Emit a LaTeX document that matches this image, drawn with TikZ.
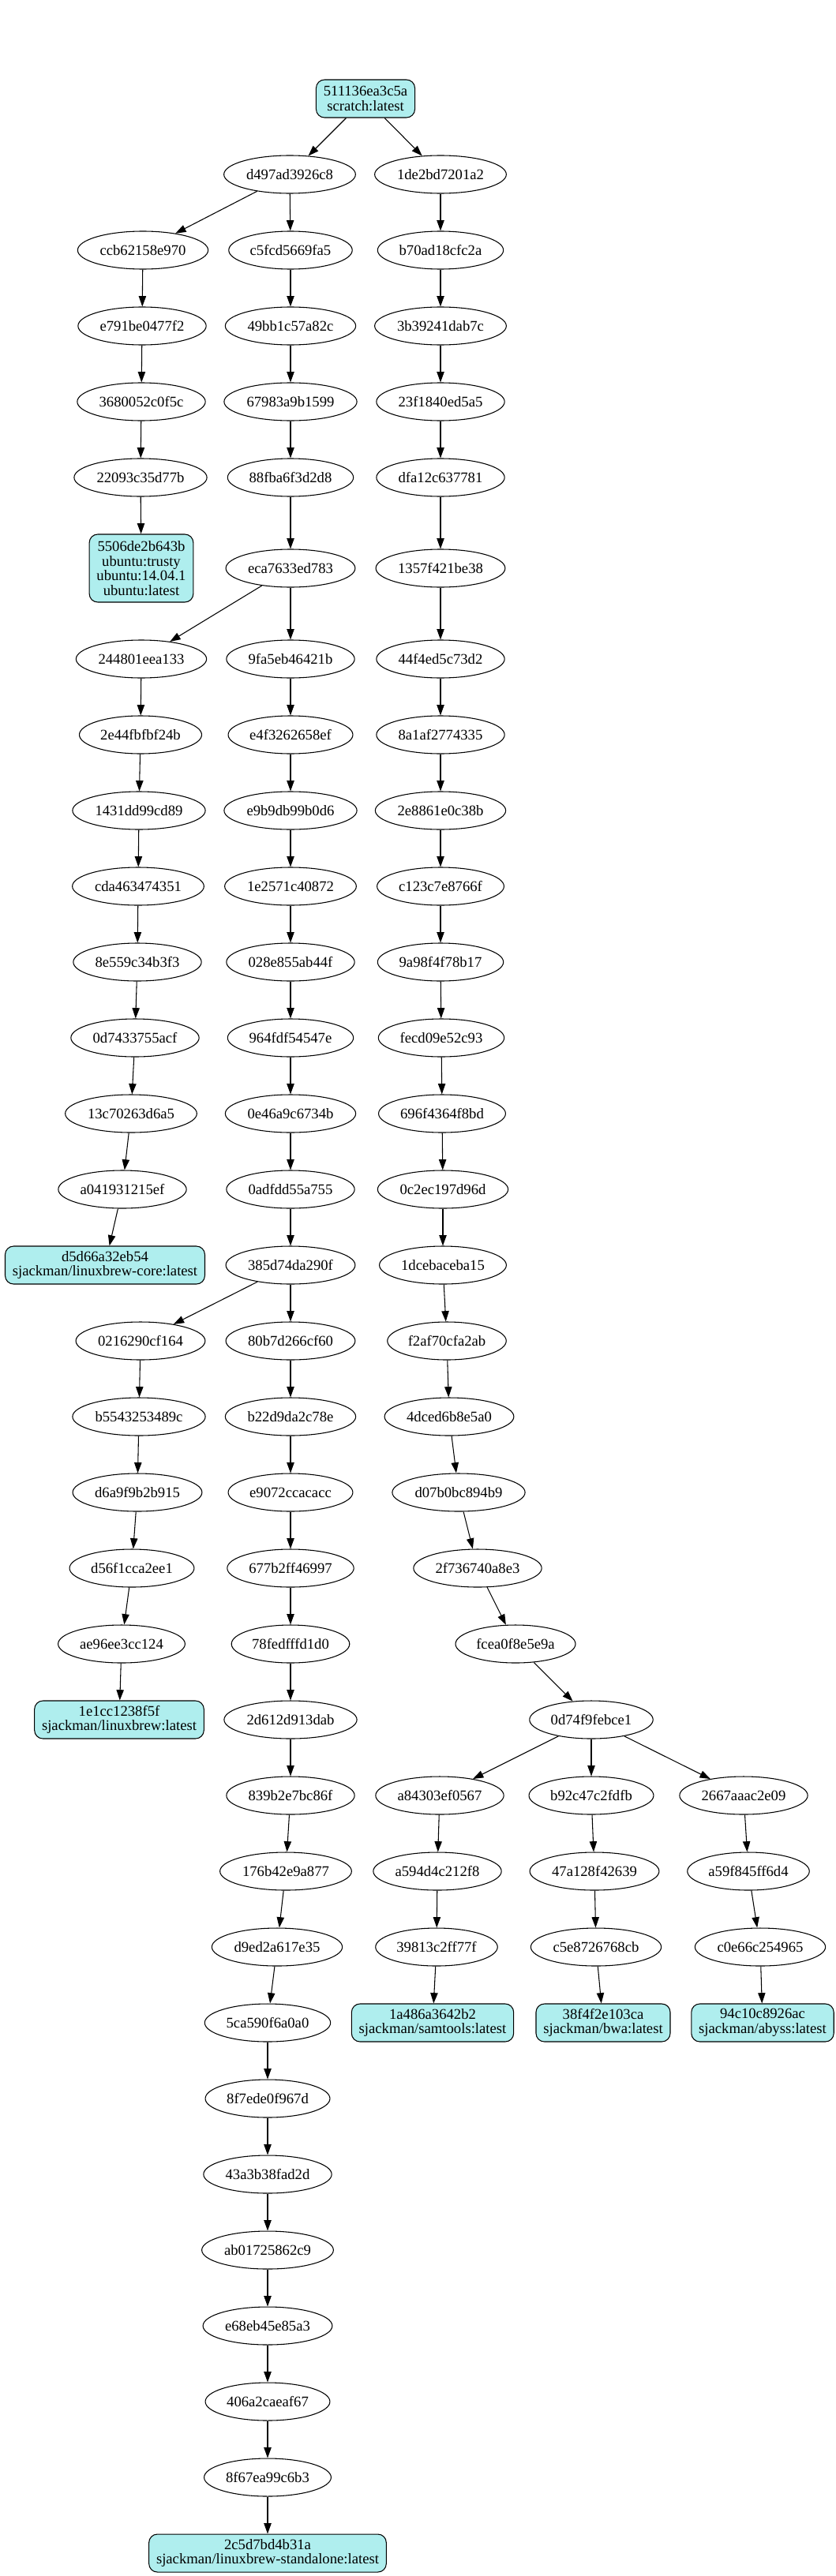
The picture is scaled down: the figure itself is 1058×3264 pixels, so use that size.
\documentclass[tikz,border=0pt]{standalone}
\usepackage{fontspec}
\setmainfont{Liberation Serif}
\usetikzlibrary{arrows.meta,shapes.geometric}
\definecolor{paleturq}{HTML}{AFEEEE}
\begin{document}
\begin{tikzpicture}[x=0.75pt,y=-0.75pt,
  img/.style={draw,ellipse,line width=0.8pt,minimum height=36pt,inner xsep=3pt,inner ysep=1pt,font=\fontsize{14}{14}\selectfont},
  tag/.style={draw,rectangle,rounded corners=8pt,fill=paleturq,line width=0.8pt,minimum height=36pt,inner xsep=7pt,inner ysep=3pt,align=center,font=\fontsize{14}{14}\selectfont},
  edge/.style={line width=0.8pt,-{Triangle[length=10pt,width=7pt]}}]
\useasboundingbox (0,0) rectangle (1058,3264);
% rank 0-1
\node[tag] (n511136ea3c5a) at (463,125) {511136ea3c5a\\scratch:latest};
\node[img] (nd497ad3926c8) at (367,221) {d497ad3926c8};
\node[img] (n1de2bd7201a2) at (558,221) {1de2bd7201a2};
% rank 2-6
\node[img] (nccb62158e970) at (181,317) {ccb62158e970};
\node[img] (nc5fcd5669fa5) at (368,317) {c5fcd5669fa5};
\node[img] (nb70ad18cfc2a) at (558,317) {b70ad18cfc2a};
\node[img] (ne791be0477f2) at (180,413) {e791be0477f2};
\node[img] (n49bb1c57a82c) at (368,413) {49bb1c57a82c};
\node[img] (n3b39241dab7c) at (558,413) {3b39241dab7c};
\node[img] (n3680052c0f5c) at (179,509) {3680052c0f5c};
\node[img] (n67983a9b1599) at (368,509) {67983a9b1599};
\node[img] (n23f1840ed5a5) at (558,509) {23f1840ed5a5};
\node[img] (n22093c35d77b) at (178,605) {22093c35d77b};
\node[img] (n88fba6f3d2d8) at (368,605) {88fba6f3d2d8};
\node[img] (ndfa12c637781) at (558,605) {dfa12c637781};
\node[tag,minimum height=64.5pt] (n5506de2b643b) at (179,720) {5506de2b643b\\ubuntu:trusty\\ubuntu:14.04.1\\ubuntu:latest};
\node[img] (neca7633ed783) at (368,720) {eca7633ed783};
\node[img] (n1357f421be38) at (558,720) {1357f421be38};
% rank 7-15
\node[img] (n244801eea133) at (179,835) {244801eea133};
\node[img] (n9fa5eb46421b) at (368,835) {9fa5eb46421b};
\node[img] (n44f4ed5c73d2) at (558,835) {44f4ed5c73d2};
\node[img] (n2e44fbfbf24b) at (178,931) {2e44fbfbf24b};
\node[img] (ne4f3262658ef) at (368,931) {e4f3262658ef};
\node[img] (n8a1af2774335) at (558,931) {8a1af2774335};
\node[img] (n1431dd99cd89) at (176,1027) {1431dd99cd89};
\node[img] (ne9b9db99b0d6) at (368,1027) {e9b9db99b0d6};
\node[img] (n2e8861e0c38b) at (558,1027) {2e8861e0c38b};
\node[img] (ncda463474351) at (175,1123) {cda463474351};
\node[img] (n1e2571c40872) at (368,1123) {1e2571c40872};
\node[img] (nc123c7e8766f) at (558,1123) {c123c7e8766f};
\node[img] (n8e559c34b3f3) at (174,1219) {8e559c34b3f3};
\node[img] (n028e855ab44f) at (368,1219) {028e855ab44f};
\node[img] (n9a98f4f78b17) at (558,1219) {9a98f4f78b17};
\node[img] (n0d7433755acf) at (171,1315) {0d7433755acf};
\node[img] (n964fdf54547e) at (368,1315) {964fdf54547e};
\node[img] (nfecd09e52c93) at (559,1315) {fecd09e52c93};
\node[img] (n13c70263d6a5) at (166,1411) {13c70263d6a5};
\node[img] (n0e46a9c6734b) at (368,1411) {0e46a9c6734b};
\node[img] (n696f4364f8bd) at (560,1411) {696f4364f8bd};
\node[img] (na041931215ef) at (155,1507) {a041931215ef};
\node[img] (n0adfdd55a755) at (368,1507) {0adfdd55a755};
\node[img] (n0c2ec197d96d) at (561,1507) {0c2ec197d96d};
\node[tag] (nd5d66a32eb54) at (133,1603) {d5d66a32eb54\\sjackman/linuxbrew-core:latest};
\node[img] (n385d74da290f) at (368,1603) {385d74da290f};
\node[img] (n1dcebaceba15) at (561,1603) {1dcebaceba15};
% rank 16-21
\node[img] (n0216290cf164) at (178,1699) {0216290cf164};
\node[img] (n80b7d266cf60) at (368,1699) {80b7d266cf60};
\node[img] (nf2af70cfa2ab) at (566,1699) {f2af70cfa2ab};
\node[img] (nb5543253489c) at (176,1795) {b5543253489c};
\node[img] (nb22d9da2c78e) at (368,1795) {b22d9da2c78e};
\node[img] (n4dced6b8e5a0) at (569,1795) {4dced6b8e5a0};
\node[img] (nd6a9f9b2b915) at (174,1891) {d6a9f9b2b915};
\node[img] (ne9072ccacacc) at (368,1891) {e9072ccacacc};
\node[img] (nd07b0bc894b9) at (581,1891) {d07b0bc894b9};
\node[img] (nd56f1cca2ee1) at (167,1987) {d56f1cca2ee1};
\node[img] (n677b2ff46997) at (368,1987) {677b2ff46997};
\node[img] (n2f736740a8e3) at (605,1987) {2f736740a8e3};
\node[img] (nae96ee3cc124) at (154,2083) {ae96ee3cc124};
\node[img] (n78fedfffd1d0) at (368,2083) {78fedfffd1d0};
\node[img] (nfcea0f8e5e9a) at (653,2083) {fcea0f8e5e9a};
\node[tag] (n1e1cc1238f5f) at (151,2179) {1e1cc1238f5f\\sjackman/linuxbrew:latest};
\node[img] (n2d612d913dab) at (368,2179) {2d612d913dab};
\node[img] (n0d74f9febce1) at (749,2179) {0d74f9febce1};
% rank 22-25
\node[img] (n839b2e7bc86f) at (368,2275) {839b2e7bc86f};
\node[img] (na84303ef0567) at (557,2275) {a84303ef0567};
\node[img] (nb92c47c2fdfb) at (749,2275) {b92c47c2fdfb};
\node[img] (n2667aaac2e09) at (942,2275) {2667aaac2e09};
\node[img] (n176b42e9a877) at (362,2371) {176b42e9a877};
\node[img] (na594d4c212f8) at (554,2371) {a594d4c212f8};
\node[img] (n47a128f42639) at (753,2371) {47a128f42639};
\node[img] (na59f845ff6d4) at (948,2371) {a59f845ff6d4};
\node[img] (nd9ed2a617e35) at (351,2467) {d9ed2a617e35};
\node[img] (n39813c2ff77f) at (553,2467) {39813c2ff77f};
\node[img] (nc5e8726768cb) at (755,2467) {c5e8726768cb};
\node[img] (nc0e66c254965) at (963,2467) {c0e66c254965};
\node[img] (n5ca590f6a0a0) at (339,2563) {5ca590f6a0a0};
\node[tag] (n1a486a3642b2) at (548,2563) {1a486a3642b2\\sjackman/samtools:latest};
\node[tag] (n38f4f2e103ca) at (764,2563) {38f4f2e103ca\\sjackman/bwa:latest};
\node[tag] (n94c10c8926ac) at (966,2563) {94c10c8926ac\\sjackman/abyss:latest};
% rank 26-32
\node[img] (n8f7ede0f967d) at (339,2659) {8f7ede0f967d};
\node[img] (n43a3b38fad2d) at (339,2755) {43a3b38fad2d};
\node[img] (nab01725862c9) at (339,2851) {ab01725862c9};
\node[img] (ne68eb45e85a3) at (339,2947) {e68eb45e85a3};
\node[img] (n406a2caeaf67) at (339,3043) {406a2caeaf67};
\node[img] (n8f67ea99c6b3) at (339,3139) {8f67ea99c6b3};
\node[tag] (n2c5d7bd4b31a) at (339,3235) {2c5d7bd4b31a\\sjackman/linuxbrew-standalone:latest};
% edges
\foreach \a/\b in {
  n511136ea3c5a/nd497ad3926c8, n511136ea3c5a/n1de2bd7201a2,
  nd497ad3926c8/nccb62158e970, nd497ad3926c8/nc5fcd5669fa5,
  nccb62158e970/ne791be0477f2, ne791be0477f2/n3680052c0f5c, n3680052c0f5c/n22093c35d77b, n22093c35d77b/n5506de2b643b,
  nc5fcd5669fa5/n49bb1c57a82c, n49bb1c57a82c/n67983a9b1599, n67983a9b1599/n88fba6f3d2d8, n88fba6f3d2d8/neca7633ed783,
  neca7633ed783/n244801eea133, neca7633ed783/n9fa5eb46421b,
  n1de2bd7201a2/nb70ad18cfc2a, nb70ad18cfc2a/n3b39241dab7c, n3b39241dab7c/n23f1840ed5a5, n23f1840ed5a5/ndfa12c637781,
  ndfa12c637781/n1357f421be38, n1357f421be38/n44f4ed5c73d2, n44f4ed5c73d2/n8a1af2774335, n8a1af2774335/n2e8861e0c38b,
  n2e8861e0c38b/nc123c7e8766f, nc123c7e8766f/n9a98f4f78b17, n9a98f4f78b17/nfecd09e52c93, nfecd09e52c93/n696f4364f8bd,
  n696f4364f8bd/n0c2ec197d96d, n0c2ec197d96d/n1dcebaceba15, n1dcebaceba15/nf2af70cfa2ab, nf2af70cfa2ab/n4dced6b8e5a0,
  n4dced6b8e5a0/nd07b0bc894b9, nd07b0bc894b9/n2f736740a8e3, n2f736740a8e3/nfcea0f8e5e9a, nfcea0f8e5e9a/n0d74f9febce1,
  n0d74f9febce1/na84303ef0567, n0d74f9febce1/nb92c47c2fdfb, n0d74f9febce1/n2667aaac2e09,
  na84303ef0567/na594d4c212f8, na594d4c212f8/n39813c2ff77f, n39813c2ff77f/n1a486a3642b2,
  nb92c47c2fdfb/n47a128f42639, n47a128f42639/nc5e8726768cb, nc5e8726768cb/n38f4f2e103ca,
  n2667aaac2e09/na59f845ff6d4, na59f845ff6d4/nc0e66c254965, nc0e66c254965/n94c10c8926ac,
  n244801eea133/n2e44fbfbf24b, n2e44fbfbf24b/n1431dd99cd89, n1431dd99cd89/ncda463474351, ncda463474351/n8e559c34b3f3,
  n8e559c34b3f3/n0d7433755acf, n0d7433755acf/n13c70263d6a5, n13c70263d6a5/na041931215ef, na041931215ef/nd5d66a32eb54,
  n9fa5eb46421b/ne4f3262658ef, ne4f3262658ef/ne9b9db99b0d6, ne9b9db99b0d6/n1e2571c40872, n1e2571c40872/n028e855ab44f,
  n028e855ab44f/n964fdf54547e, n964fdf54547e/n0e46a9c6734b, n0e46a9c6734b/n0adfdd55a755, n0adfdd55a755/n385d74da290f,
  n385d74da290f/n0216290cf164, n385d74da290f/n80b7d266cf60,
  n0216290cf164/nb5543253489c, nb5543253489c/nd6a9f9b2b915, nd6a9f9b2b915/nd56f1cca2ee1, nd56f1cca2ee1/nae96ee3cc124,
  nae96ee3cc124/n1e1cc1238f5f,
  n80b7d266cf60/nb22d9da2c78e, nb22d9da2c78e/ne9072ccacacc, ne9072ccacacc/n677b2ff46997, n677b2ff46997/n78fedfffd1d0,
  n78fedfffd1d0/n2d612d913dab, n2d612d913dab/n839b2e7bc86f, n839b2e7bc86f/n176b42e9a877, n176b42e9a877/nd9ed2a617e35,
  nd9ed2a617e35/n5ca590f6a0a0, n5ca590f6a0a0/n8f7ede0f967d, n8f7ede0f967d/n43a3b38fad2d, n43a3b38fad2d/nab01725862c9,
  nab01725862c9/ne68eb45e85a3, ne68eb45e85a3/n406a2caeaf67, n406a2caeaf67/n8f67ea99c6b3, n8f67ea99c6b3/n2c5d7bd4b31a}
  \draw[edge] (\a) -- (\b);
\end{tikzpicture}
\end{document}
